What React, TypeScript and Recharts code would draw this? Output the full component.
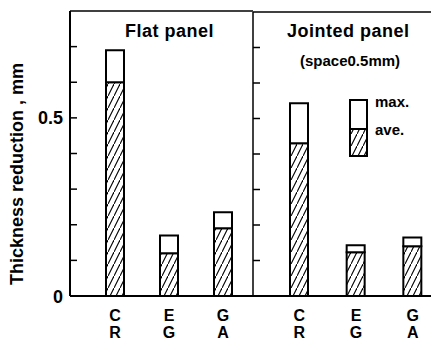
import React from 'react';
import { BarChart, Bar, XAxis, YAxis, ReferenceLine } from 'recharts';

const categories = ['CR', 'EG', 'GA'];
const flatAve = [0.6, 0.12, 0.19];
const flatMax = [0.69, 0.17, 0.235];
const jointAve = [0.43, 0.123, 0.14];
const jointMax = [0.543, 0.143, 0.165];
const yTicks = [0, 0.1, 0.2, 0.3, 0.4, 0.5, 0.6, 0.7];
const yLabelTicks = [0, 0.5];
const yMax = 0.8;

const FONT = '"Liberation Sans", Arial, Helvetica, sans-serif';
const TICK_LEN = 7;

const buildRows = (ave: number[], max: number[]) =>
  categories.map((c, i) => ({ cat: c, ave: ave[i], rest: +(max[i] - ave[i]).toFixed(4) }));

const flatRows = buildRows(flatAve, flatMax);
const jointRows = buildRows(jointAve, jointMax);

const XTick = (props: any) => {
  const { x, y, payload } = props;
  const chars = String(payload.value).split('');
  return (
    <text x={x} y={y + 17} textAnchor="middle" fontFamily={FONT} fontWeight="bold" fontSize={16} fill="#000">
      {chars.map((ch, i) => (
        <tspan key={i} x={x} dy={i === 0 ? 0 : 17}>
          {ch}
        </tspan>
      ))}
    </text>
  );
};

// Inward tick mark (drawn from the axis line to the right), optional label on the left
const YTick = (props: any) => {
  const { x, y, payload, showLabels } = props;
  const axisX = x - TICK_LEN;
  const line = payload.value > 0 ? (
    <line x1={axisX} y1={y} x2={axisX + TICK_LEN} y2={y} stroke="#000" strokeWidth={1.5} />
  ) : null;
  return (
    <g>
      {line}
      {showLabels && yLabelTicks.includes(payload.value) ? (
        <text x={axisX - 7} y={y + 6.5} textAnchor="end" fontFamily={FONT} fontWeight="bold" fontSize={18} fill="#000">
          {String(payload.value)}
        </text>
      ) : null}
    </g>
  );
};

const Hatch = ({ id }: { id: string }) => (
  <defs>
    <pattern id={id} patternUnits="userSpaceOnUse" width={6} height={12}>
      <rect width={6} height={12} fill="#fff" />
      <path d="M-1,14 L7,-2" stroke="#000" strokeWidth={1.1} />
    </pattern>
  </defs>
);

const Panel = ({ rows, hatchId, withLabels, top, bottom }: any) => (
  <BarChart
    width={withLabels ? 255 : 203}
    height={342}
    data={rows}
    margin={{ top, right: 2, left: 0, bottom }}
    barCategoryGap={0}
  >
    <Hatch id={hatchId} />
    <XAxis
      dataKey="cat"
      tickLine={false}
      axisLine={{ stroke: '#000', strokeWidth: 2 }}
      padding={{ left: 18, right: 3 }}
      interval={0}
      height={30}
      tick={<XTick />}
    />
    <YAxis
      type="number"
      domain={[0, yMax]}
      ticks={yTicks}
      width={withLabels ? 70 : 10}
      tickSize={-TICK_LEN}
      tickMargin={0}
      tickLine={false}
      axisLine={{ stroke: '#000', strokeWidth: withLabels ? 2 : 1.5 }}
      tick={<YTick showLabels={withLabels} />}
      allowDataOverflow
    />
    <ReferenceLine y={yMax} stroke="#000" strokeWidth={1.5} />
    <Bar dataKey="ave" stackId="a" fill={`url(#${hatchId})`} stroke="#000" strokeWidth={2} barSize={18} isAnimationActive={false} />
    <Bar dataKey="rest" stackId="a" fill="#fff" stroke="#000" strokeWidth={2} barSize={18} isAnimationActive={false} />
  </BarChart>
);

const textStyle: React.CSSProperties = {
  position: 'absolute',
  fontFamily: FONT,
  fontWeight: 'bold',
  color: '#000',
  whiteSpace: 'nowrap',
  lineHeight: 1,
};

export default function App() {
  return (
    <div style={{ position: 'fixed', left: 0, top: 0, width: 431, height: 342, overflow: 'hidden', background: '#fff' }}>
      <div style={{ position: 'absolute', left: 0, top: 0 }}>
        <Panel rows={flatRows} hatchId="hatchL" withLabels top={11} bottom={16} />
      </div>
      <div style={{ position: 'absolute', left: 243, top: 0 }}>
        <Panel rows={jointRows} hatchId="hatchR" withLabels={false} top={12} bottom={16} />
      </div>
      <div
        style={{
          ...textStyle,
          left: 17,
          top: 174,
          fontSize: 18,
          transform: 'translate(-50%, -50%) rotate(-90deg)',
        }}
      >
        Thickness reduction , mm
      </div>
      <div style={{ ...textStyle, left: 125, top: 22, fontSize: 18, letterSpacing: 0.5 }}>Flat panel</div>
      <div style={{ ...textStyle, left: 287, top: 22, fontSize: 18, letterSpacing: 0.5 }}>Jointed panel</div>
      <div style={{ ...textStyle, left: 300, top: 53, fontSize: 15 }}>(space0.5mm)</div>
      <svg style={{ position: 'absolute', left: 345, top: 86 }} width={84} height={80}>
        <defs>
          <pattern id="hatchLeg" patternUnits="userSpaceOnUse" width={6} height={12}>
            <rect width={6} height={12} fill="#fff" />
            <path d="M-1,14 L7,-2" stroke="#000" strokeWidth={1.1} />
          </pattern>
        </defs>
        <rect x={5} y={14} width={17} height={29} fill="#fff" stroke="#000" strokeWidth={2} />
        <rect x={5} y={43} width={17} height={27} fill="url(#hatchLeg)" stroke="#000" strokeWidth={2} />
        <text x={30} y={21} fontFamily={FONT} fontWeight="bold" fontSize={15} fill="#000">max.</text>
        <text x={30} y={49} fontFamily={FONT} fontWeight="bold" fontSize={15} fill="#000">ave.</text>
      </svg>
    </div>
  );
}
